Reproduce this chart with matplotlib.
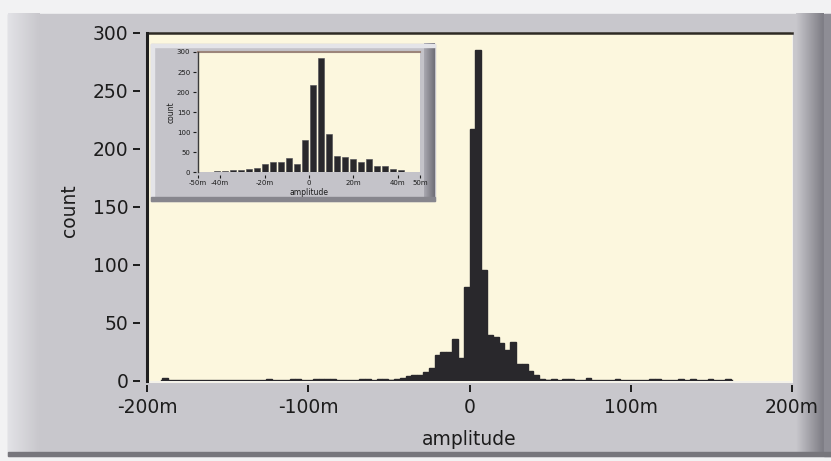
import matplotlib.pyplot as plt
from matplotlib.patches import Rectangle
from matplotlib.colors import LinearSegmentedColormap
import numpy as np

# histogram data: centres of the non-empty bins (amplitude, in m) and counts
bin_centers = [-189.0, -124.2, -109.8, -106.2, -95.4, -91.8, -88.2, -84.6,
               -66.6, -63.0, -55.8, -52.2, -48.6, -45.0, -41.4, -37.8,
               -34.2, -30.6, -27.0, -23.4, -19.8, -16.2, -12.6, -9.0,
               -5.4, -1.8, 1.8, 5.4, 9.0, 12.6, 16.2, 19.8, 23.4, 27.0,
               30.6, 34.2, 37.8, 41.4, 45.0, 48.6, 52.2, 59.4, 63.0, 73.8,
               91.8, 113.4, 117.0, 131.4, 138.6, 149.4, 160.2]
counts = [3, 2, 2, 2, 2, 2, 2, 2,
          2, 2, 2, 2, 1, 2, 3, 4,
          5, 5, 8, 11, 22, 25, 25, 36,
          20, 81, 217, 285, 96, 40, 38, 33, 27, 34,
          15, 15, 9, 5, 2, 1, 2, 2, 2, 3,
          2, 2, 2, 2, 2, 2, 2]
bin_width = 3.6

main_xticks = [-200, -100, 0, 100, 200]
main_xticklabels = ['-200m', '-100m', '0', '100m', '200m']
yticks = [0, 50, 100, 150, 200, 250, 300]
inset_xticks = [-50, -40, -20, 0, 20, 40, 50]
inset_xticklabels = ['-50m', '-40m', '-20m', '0', '20m', '40m', '50m']

W, H = 831, 461
CREAM = '#fcf7de'
PANEL = '#c8c7cc'
BAR = '#29282c'
TXT = '#1c1c1c'


def fig_rect(x0, y0, x1, y1):
    # pixel box (top-left origin) -> figure fraction
    return [x0 / W, 1 - y1 / H, (x1 - x0) / W, (y1 - y0) / H]


def hgrad(axis, x0, x1, y0, y1, c0, c1):
    cmap = LinearSegmentedColormap.from_list('g', [c0, c1])
    axis.imshow(np.linspace(0, 1, 64)[None, :], cmap=cmap, aspect='auto',
                extent=(x0, x1, y1, y0), zorder=1)


fig = plt.figure(figsize=(W / 100, H / 100), dpi=100)

# background panel (LabVIEW style)
bg = fig.add_axes([0, 0, 1, 1])
bg.set_zorder(0)
bg.axis('off')
bg.add_patch(Rectangle((0, 0), W, H, color='#f2f2f3', zorder=0))
bg.add_patch(Rectangle((8, 14), W - 8, 442, color=PANEL, zorder=0.5))
hgrad(bg, 8, 40, 14, 456, '#e2e2e6', PANEL)
hgrad(bg, 796, 824, 14, 456, PANEL, '#7c7b83')
bg.add_patch(Rectangle((824, 14), 7, 442, color='#8e8d95', zorder=2))
bg.add_patch(Rectangle((8, 452), W - 8, 4, color='#77767c', zorder=2))
bg.plot([147, 792], [382, 382], color='#f4f2ea', lw=1.5, zorder=3)
bg.plot([792, 792], [33, 382], color='#f4f2ea', lw=1.5, zorder=3)
bg.set_xlim(0, W)
bg.set_ylim(H, 0)

# main histogram
ax = fig.add_axes(fig_rect(147, 33, 792, 381))
ax.set_zorder(1)
ax.set_facecolor(CREAM)
ax.bar(bin_centers, counts, width=bin_width, color=BAR, edgecolor=BAR,
       linewidth=1.0, zorder=3)
ax.plot([bin_centers[0] - bin_width / 2, bin_centers[-1] + bin_width / 2],
        [0, 0], color=BAR, lw=2.4, zorder=3)
ax.set_xlim(-200, 200)
ax.set_ylim(0, 300)
ax.set_xticks(main_xticks)
ax.set_xticklabels(main_xticklabels)
ax.set_yticks(yticks)
ax.spines['left'].set_position(('outward', 5))
ax.spines['bottom'].set_position(('outward', 3))
for s in ['left', 'bottom', 'right']:
    ax.spines[s].set_visible(False)
ax.spines['top'].set_color('#2e2a24')
ax.spines['top'].set_linewidth(1.8)
ax.axvline(-200, color='#1e1e1e', lw=2.2, clip_on=False, zorder=4)
ax.tick_params(axis='both', direction='out', length=5, width=1.4,
               color=TXT, labelcolor=TXT, labelsize=13.5)
ax.tick_params(axis='x', pad=4.5)
ax.tick_params(axis='y', pad=3.5)
ax.set_xlabel('amplitude', fontsize=13.5, color=TXT)
ax.set_ylabel('count', fontsize=13.5, color=TXT)
ax.xaxis.set_label_coords(0.5, -0.14)
ax.yaxis.set_label_coords(-0.106, 0.49)

# inset panel
ov = fig.add_axes([0, 0, 1, 1])
ov.set_zorder(2)
ov.patch.set_alpha(0)
ov.axis('off')
ov.add_patch(Rectangle((151, 44), 284, 157, color='#c4c3c9', zorder=1))
ov.add_patch(Rectangle((151, 44), 284, 3, color='#e4e4e8', zorder=2))
ov.add_patch(Rectangle((151, 44), 3, 157, color='#e4e4e8', zorder=2))
hgrad(ov, 424, 435, 44, 201, '#a9a8b0', '#6f6e76')
ov.add_patch(Rectangle((151, 197), 284, 4, color='#87868d', zorder=2))
ov.set_xlim(0, W)
ov.set_ylim(H, 0)

ins = fig.add_axes(fig_rect(198, 52, 420, 172.5))
ins.set_zorder(3)
ins.set_facecolor(CREAM)
ins.bar(bin_centers, counts, width=bin_width * 0.72, color=BAR,
        edgecolor='#4a4950', linewidth=0.4, zorder=3)
ins.set_xlim(-50, 50)
ins.set_ylim(0, 300)
ins.set_xticks(inset_xticks)
ins.set_xticklabels(inset_xticklabels)
ins.set_yticks(yticks)
ins.spines['left'].set_position(('outward', 1.5))
ins.spines['bottom'].set_position(('outward', 1.5))
for s in ['left', 'bottom', 'right']:
    ins.spines[s].set_visible(False)
ins.spines['top'].set_color('#9c857a')
ins.spines['top'].set_linewidth(1.5)
ins.axvline(-50, color='#3a3a3a', lw=1, clip_on=False, zorder=4)
ins.tick_params(axis='both', direction='out', length=2.5, width=0.8,
                color=TXT, labelcolor=TXT, labelsize=5, pad=1.5)
ins.set_xlabel('amplitude', fontsize=5.5, color=TXT, labelpad=1)
ins.set_ylabel('count', fontsize=5.5, color=TXT, labelpad=1)

fig.savefig('out.png', dpi=100)
